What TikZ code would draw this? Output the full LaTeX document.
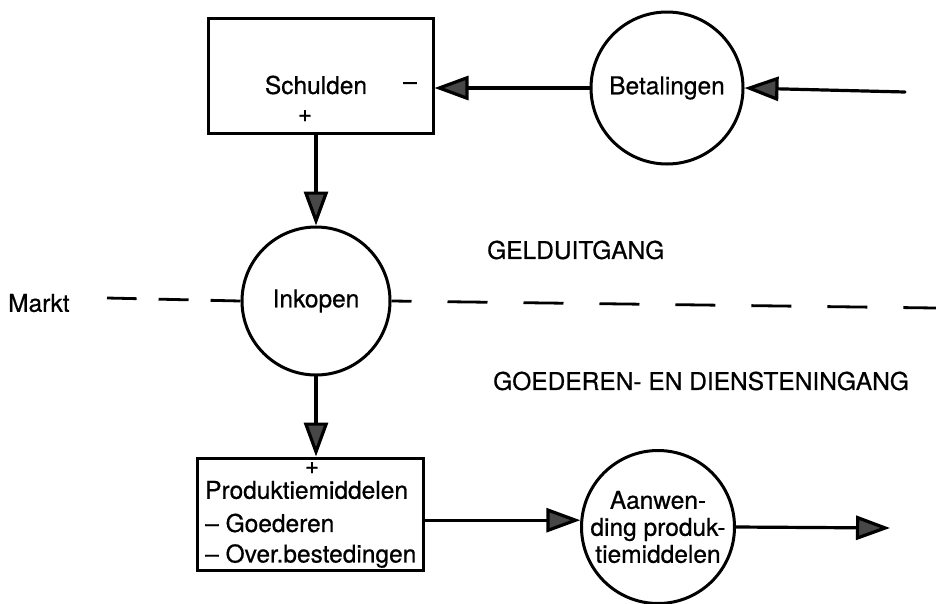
\documentclass[tikz,border=0pt]{standalone}
\usepackage{fontspec}
\setmainfont{TeX Gyre Heros}[FakeBold=0.6]
\usetikzlibrary{arrows.meta}
\begin{document}
\begin{tikzpicture}[x=1pt,y=-1pt,
  every node/.style={font=\fontsize{24.5}{27}\selectfont, inner sep=0pt},
  line/.style={line width=3.2pt, line cap=round},
  flow/.style={line, -{Triangle[length=34pt,width=24pt,fill=black!72]}},
  proc/.style={draw, circle, line width=3pt, minimum size=150pt, align=center},
  store/.style={draw, rectangle, line width=3pt},
  boundary/.style={line width=2.8pt},
  txt/.style={anchor=west}]
\useasboundingbox (0,0) rectangle (936,603);

% stores and processes
\node[store, minimum width=225pt, minimum height=115pt] (schulden) at (320.5,75.5) {};
\node (schuldenlbl) at (316,85) {Schulden};
\node (schuldenmin) at (410,86) {--};
\node (schuldenplus) at (305,116) {+};

\node[proc, minimum size=152pt] (betalingen) at (667,88) {Betalingen};
\node[proc, minimum size=148pt] (inkopen) at (316,301) {Inkopen};

\node[store, minimum width=226pt, minimum height=112pt] (prod) at (310,514) {};
\node (prodplus) at (312,468) {+};
\node[txt] (prodl1) at (205,490) {Produktiemiddelen};
\node[txt] (prodl2) at (205,523) {-- Goederen};
\node[txt] (prodl3) at (205,556) {-- Over.bestedingen};

\node[proc, minimum size=152pt] (aanw) at (658,527) {Aanwen-\\ding produk-\\tiemiddelen};

% free ends
\coordinate (betin) at (905,92);
\coordinate (aanwout) at (890,528);
\coordinate (marktend) at (107,298);
\coordinate (rightend) at (936,308);

% market boundary
\node[txt] (markt) at (8,303) {Markt};
\draw[boundary, dash pattern=on 30pt off 22pt] (inkopen.west) -- (marktend);
\draw[boundary, dash pattern=on 40pt off 36pt, dash phase=20pt] (inkopen.east) -- (rightend);

\node[txt] (uit) at (487,250) {GELDUITGANG};
\node[txt] (in) at (493,381) {GOEDEREN- EN DIENSTENINGANG};

% flows
\draw[flow] (betin) -- (betalingen.east);
\draw[flow] (betalingen.west) -- (betalingen.west -| schulden.east);
\draw[flow] (schulden.south -| inkopen.north) -- (inkopen.north);
\draw[flow] (inkopen.south) -- (inkopen.south |- prod.north);
\draw[flow] (prod.east |- aanw.175) -- (aanw.175);
\draw[flow] (aanw.east) -- (aanwout);
\end{tikzpicture}
\end{document}
